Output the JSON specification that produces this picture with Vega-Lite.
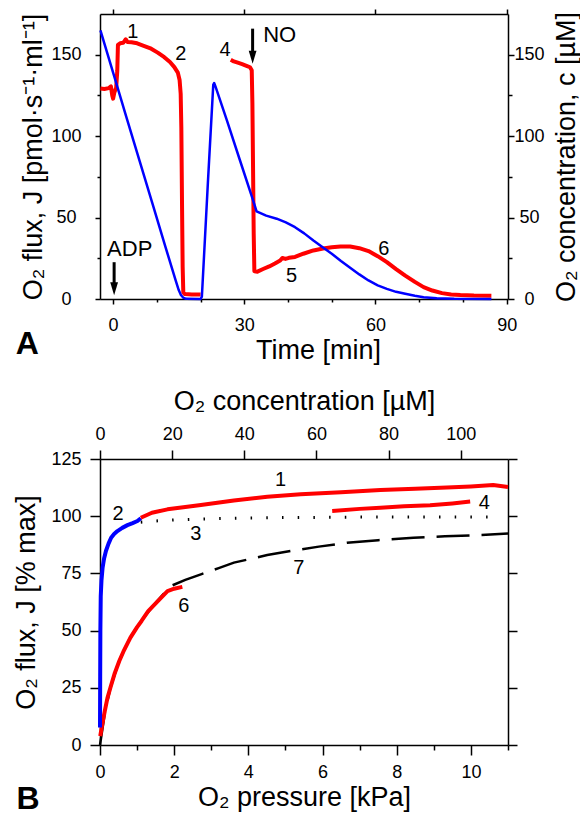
{
  "$schema": "https://vega.github.io/schema/vega-lite/v6.json",
  "padding": {"left": 12, "top": 8, "right": 0, "bottom": 0},
  "autosize": {"type": "pad"},
  "spacing": 160,
  "bounds": "flush",
  "config": {
    "view": {"stroke": null},
    "axis": {"grid": false, "domainColor": "black", "domainWidth": 1.5, "tickColor": "black", "tickWidth": 1.5,
      "labelFont": "Liberation Sans", "labelFontSize": 18, "labelColor": "black",
      "titleFont": "Liberation Sans", "titleFontSize": 27, "titleFontWeight": "normal", "titleColor": "black", "labelOverlap": false},
    "text": {"font": "Liberation Sans", "color": "black"}
  },
  "vconcat": [
    {
      "width": 408, "height": 285,
      "layer": [
        {
          "encoding": {
            "x": {"field": "t", "type": "quantitative", "scale": {"domain": [-3, 90.3], "nice": false},
              "axis": {"orient": "bottom", "values": [0,10,20,30,40,50,60,70,80,90],
                "labelExpr": "datum.value % 30 === 0 ? datum.label : ''",
                "tickSize": {"condition": {"test": "datum.value % 30 === 0", "value": 5}, "value": 3},
                "labelPadding": 12, "labelFlush": false, "title": "Time [min]", "titlePadding": 3, "titleX": 218}},
            "y": {"field": "J", "type": "quantitative", "scale": {"domain": [0, 175], "nice": false},
              "axis": {"orient": "left", "values": [0,25,50,75,100,125,150],
                "labelExpr": "datum.value % 50 === 0 ? datum.label : ''",
                "tickSize": {"condition": {"test": "datum.value % 50 === 0", "value": 5}, "value": 3},
                "labelAlign": "center", "labelPadding": 29,
                "title": "O₂ flux, J [pmol·s⁻¹·ml⁻¹]", "titlePadding": 3}}
          },
          "layer": [
            {
              "data": {"values": [
                {"seg":"a","t":-2.9,"J":129.2},{"seg":"a","t":-2.0,"J":129.0},{"seg":"a","t":-1.0,"J":129.5},{"seg":"a","t":-0.5,"J":130.5},
                {"seg":"a","t":-0.2,"J":125},{"seg":"a","t":0.0,"J":123},{"seg":"a","t":0.3,"J":127},{"seg":"a","t":0.7,"J":129.8},
                {"seg":"a","t":0.95,"J":140},{"seg":"a","t":1.1,"J":156},{"seg":"a","t":1.6,"J":157},{"seg":"a","t":2.3,"J":157.3},
                {"seg":"a","t":2.9,"J":159.5},{"seg":"a","t":3.3,"J":157.8},{"seg":"a","t":4.2,"J":157.6},{"seg":"a","t":5.5,"J":157},
                {"seg":"a","t":7.0,"J":155.5},{"seg":"a","t":8.7,"J":153.7},{"seg":"a","t":10.2,"J":151.3},{"seg":"a","t":11.7,"J":148.5},
                {"seg":"a","t":13.0,"J":145.5},{"seg":"a","t":14.0,"J":142.4},{"seg":"a","t":14.8,"J":139},{"seg":"a","t":15.2,"J":134.5},
                {"seg":"a","t":15.45,"J":126},{"seg":"a","t":15.6,"J":105},{"seg":"a","t":15.75,"J":60},{"seg":"a","t":15.9,"J":20},
                {"seg":"a","t":16.05,"J":4},{"seg":"a","t":16.4,"J":3.0},{"seg":"a","t":18.0,"J":2.8},{"seg":"a","t":20.0,"J":2.7},
                {"seg":"b","t":26.9,"J":146.9},{"seg":"b","t":27.6,"J":145.9},{"seg":"b","t":28.5,"J":145.1},{"seg":"b","t":29.5,"J":144.2},
                {"seg":"b","t":30.5,"J":143.2},{"seg":"b","t":31.3,"J":142.3},{"seg":"b","t":31.7,"J":140.5},{"seg":"b","t":31.85,"J":120},
                {"seg":"b","t":32.0,"J":80},{"seg":"b","t":32.15,"J":40},{"seg":"b","t":32.3,"J":17},{"seg":"b","t":33.0,"J":16.8},
                {"seg":"b","t":34.3,"J":18.4},{"seg":"b","t":35.7,"J":20},{"seg":"b","t":37.0,"J":21.8},{"seg":"b","t":38.2,"J":23.6},
                {"seg":"b","t":38.7,"J":25.2},{"seg":"b","t":39.4,"J":24.6},{"seg":"b","t":40.2,"J":25.3},{"seg":"b","t":41.6,"J":25.8},
                {"seg":"b","t":43.5,"J":27.8},{"seg":"b","t":45.8,"J":29.8},{"seg":"b","t":48.0,"J":31.0},{"seg":"b","t":50.0,"J":31.8},
                {"seg":"b","t":52.0,"J":32.3},{"seg":"b","t":54.2,"J":32.2},{"seg":"b","t":56.3,"J":31.2},{"seg":"b","t":58.4,"J":29.4},
                {"seg":"b","t":60.5,"J":26.3},{"seg":"b","t":62.6,"J":22.6},{"seg":"b","t":64.7,"J":18.4},{"seg":"b","t":66.8,"J":14.4},
                {"seg":"b","t":69.0,"J":10.5},{"seg":"b","t":71.0,"J":7.3},{"seg":"b","t":73.0,"J":5.2},{"seg":"b","t":75.2,"J":3.6},
                {"seg":"b","t":77.3,"J":2.8},{"seg":"b","t":79.4,"J":2.4},{"seg":"b","t":82.5,"J":2.1},{"seg":"b","t":86.5,"J":2.0}
              ]},
              "mark": {"type": "line", "color": "#ff0000", "strokeWidth": 4, "strokeJoin": "round"},
              "encoding": {"detail": {"field": "seg"}}
            },
            {
              "data": {"values": [{"t":0.23,"J":22.6,"J2":8},{"t":31.9,"J":166,"J2":151}]},
              "mark": {"type": "rule", "color": "black", "strokeWidth": 3},
              "encoding": {"y2": {"field": "J2"}}
            },
            {
              "data": {"values": [{"t":0.23,"J":6.3},{"t":31.9,"J":148.5}]},
              "mark": {"type": "point", "shape": "M-0.6,-1L0.6,-1L0,1Z", "size": 169, "filled": true, "color": "black", "opacity": 1}
            },
            {
              "data": {"values": [{"t":4.5,"J":164,"txt":"1"},{"t":15.5,"J":150.6,"txt":"2"},{"t":25.6,"J":153,"txt":"4"},{"t":40.8,"J":14.4,"txt":"5"},{"t":61.9,"J":30.8,"txt":"6"}]},
              "mark": {"type": "text", "fontSize": 20, "align": "center", "baseline": "middle"},
              "encoding": {"text": {"field": "txt"}}
            },
            {
              "data": {"values": [{"t":38.1,"J":162,"txt":"NO"},{"t":3.8,"J":30.8,"txt":"ADP"}]},
              "mark": {"type": "text", "fontSize": 22, "align": "center", "baseline": "middle"},
              "encoding": {"text": {"field": "txt"}}
            },
            {
              "data": {"values": [{"t":-19.6,"J":-27.9,"txt":"A"}]},
              "mark": {"type": "text", "fontSize": 32, "fontWeight": "bold", "align": "center", "baseline": "middle"},
              "encoding": {"text": {"field": "txt"}}
            }
          ]
        },
        {
          "data": {"values": [
            {"t":-2.9,"c":164.9},{"t":0,"c":139},{"t":3,"c":112},{"t":6,"c":85.3},{"t":9,"c":58.5},{"t":12,"c":31.7},
            {"t":14.3,"c":11.5},{"t":15.0,"c":5.5},{"t":15.5,"c":2.5},{"t":16.0,"c":0.9},{"t":16.7,"c":0.1},{"t":20.0,"c":0},
            {"t":20.3,"c":1.5},{"t":21.7,"c":72.8},{"t":22.9,"c":131.5},{"t":23.1,"c":132.6},{"t":23.4,"c":130.5},{"t":26,"c":109.8},
            {"t":29,"c":85.2},{"t":31.9,"c":61.5},{"t":32.8,"c":53.8},{"t":35,"c":51.2},{"t":37.4,"c":49.3},{"t":39.5,"c":47},
            {"t":41.6,"c":44.1},{"t":43.7,"c":40.3},{"t":45.8,"c":35.9},{"t":48,"c":31.6},{"t":50,"c":27.8},{"t":52.1,"c":23.4},
            {"t":54.2,"c":19.2},{"t":56.3,"c":15.1},{"t":58.4,"c":11.4},{"t":60.5,"c":8.4},{"t":62.6,"c":6.2},{"t":64.7,"c":4.4},
            {"t":66.8,"c":3.2},{"t":69,"c":2},{"t":71,"c":1.1},{"t":74,"c":0.4},{"t":78,"c":0.1},{"t":86.5,"c":0}
          ]},
          "mark": {"type": "line", "color": "#0000ff", "strokeWidth": 2.5, "strokeJoin": "round"},
          "encoding": {
            "x": {"field": "t", "type": "quantitative", "scale": {"domain": [-3, 90.3], "nice": false},
              "axis": {"orient": "top", "values": [0,30,60,90], "labels": false, "tickSize": 5, "title": null}},
            "y": {"field": "c", "type": "quantitative", "scale": {"domain": [0, 175], "nice": false},
              "axis": {"orient": "right", "values": [0,25,50,75,100,125,150],
                "labelExpr": "datum.value % 50 === 0 ? datum.label : ''",
                "tickSize": {"condition": {"test": "datum.value % 50 === 0", "value": 6}, "value": 4},
                "labelAlign": "center", "labelPadding": 15,
                "title": "O₂ concentration, c [µM]", "titleAngle": 270, "titleBaseline": "top", "titlePadding": 9}}
          }
        }
      ],
      "resolve": {"scale": {"y": "independent"}, "axis": {"x": "independent"}}
    },
    {
      "width": 408, "height": 286,
      "layer": [
        {
          "encoding": {
            "x": {"field": "p", "type": "quantitative", "scale": {"domain": [0, 11], "nice": false},
              "axis": {"orient": "bottom", "values": [0,1,2,3,4,5,6,7,8,9,10,11],
                "labelExpr": "datum.value % 2 === 0 && datum.value <= 10 ? datum.label : ''",
                "tickSize": {"condition": {"test": "datum.value % 2 === 0", "value": 10}, "value": 5},
                "labelPadding": 8, "labelFlush": false, "title": "O₂ pressure [kPa]", "titlePadding": 3}},
            "y": {"field": "J", "type": "quantitative", "scale": {"domain": [0, 125], "nice": false},
              "axis": {"orient": "left", "values": [0,25,50,75,100,125], "tickSize": 10, "labelPadding": 9,
                "title": "O₂ flux, J [% max]", "titlePadding": 10}}
          },
          "layer": [
            {
              "data": {"values": [
                {"p":0,"J":0},{"p":0.13,"J":14},{"p":0.28,"J":25},{"p":0.52,"J":37},{"p":0.82,"J":47},{"p":1.12,"J":54.5},
                {"p":1.52,"J":62.5},{"p":1.91,"J":69.5},{"p":2.3,"J":72.2},{"p":2.72,"J":74.6},{"p":3.2,"J":77.3},{"p":3.61,"J":79.7},
                {"p":4.1,"J":81.5},{"p":4.51,"J":83},{"p":5.14,"J":84.8},{"p":5.9,"J":86.7},{"p":6.66,"J":88.4},{"p":7.5,"J":89.5},
                {"p":8.45,"J":90.6},{"p":9.3,"J":91.2},{"p":10.25,"J":91.8},{"p":11.0,"J":92.4}
              ]},
              "mark": {"type": "line", "color": "black", "strokeWidth": 2.5, "strokeDash": [33, 12]}
            },
            {
              "data": {"values": [
                {"p":1.1,"J":97.4},{"p":1.5,"J":97.9},{"p":2,"J":98.4},{"p":3,"J":98.9},{"p":4,"J":99.2},{"p":5,"J":99.4},
                {"p":6,"J":99.5},{"p":7,"J":99.6},{"p":8,"J":99.6},{"p":9,"J":99.7},{"p":10.6,"J":99.7}
              ]},
              "mark": {"type": "line", "color": "black", "strokeWidth": 3, "strokeDash": [1.5, 14.2]}
            },
            {
              "data": {"values": [
                {"p":0.007,"J":3.9},{"p":0.05,"J":8},{"p":0.13,"J":14.9},{"p":0.2,"J":20.5},{"p":0.28,"J":25},{"p":0.4,"J":31.5},
                {"p":0.52,"J":36.7},{"p":0.65,"J":41.5},{"p":0.82,"J":46.9},{"p":1.0,"J":51.5},{"p":1.12,"J":54.2},{"p":1.3,"J":58.5},
                {"p":1.52,"J":62.2},{"p":1.82,"J":67.3},{"p":2.0,"J":68.3},{"p":2.22,"J":69.1}
              ]},
              "mark": {"type": "line", "color": "#ff0000", "strokeWidth": 4, "strokeJoin": "round"}
            },
            {
              "data": {"values": [
                {"p":0.0,"J":7.6},{"p":0.005,"J":30},{"p":0.01,"J":50},{"p":0.02,"J":65},{"p":0.04,"J":72},{"p":0.07,"J":77.5},
                {"p":0.11,"J":81.5},{"p":0.16,"J":84.8},{"p":0.23,"J":88},{"p":0.30,"J":90.6},{"p":0.38,"J":92.2},{"p":0.47,"J":93.5},
                {"p":0.6,"J":94.9},{"p":0.74,"J":96.1},{"p":0.88,"J":97},{"p":1.01,"J":97.9},{"p":1.10,"J":99.1}
              ]},
              "mark": {"type": "line", "color": "#0000ff", "strokeWidth": 4, "strokeJoin": "round"}
            },
            {
              "data": {"values": [
                {"p":1.10,"J":99.3},{"p":1.4,"J":101.5},{"p":1.82,"J":103},{"p":2.3,"J":104},{"p":2.72,"J":104.9},{"p":3.61,"J":106.9},
                {"p":4.51,"J":108.5},{"p":5.41,"J":109.6},{"p":6.5,"J":110.5},{"p":7.56,"J":111.5},{"p":8.5,"J":112},{"p":9.35,"J":112.5},
                {"p":10.0,"J":113},{"p":10.6,"J":113.6},{"p":11.0,"J":112.8}
              ]},
              "mark": {"type": "line", "color": "#ff0000", "strokeWidth": 4, "strokeJoin": "round"}
            },
            {
              "data": {"values": [
                {"p":6.26,"J":102.3},{"p":7.0,"J":103.2},{"p":7.56,"J":103.7},{"p":8.2,"J":104.3},{"p":8.9,"J":104.8},{"p":9.5,"J":105.6},{"p":9.98,"J":106.4}
              ]},
              "mark": {"type": "line", "color": "#ff0000", "strokeWidth": 4, "strokeJoin": "round"}
            },
            {
              "data": {"values": [{"p":4.87,"J":115.7,"txt":"1"},{"p":0.49,"J":100.8,"txt":"2"},{"p":2.58,"J":92.1,"txt":"3"},{"p":10.36,"J":105.9,"txt":"4"},{"p":2.26,"J":60.8,"txt":"6"},{"p":5.36,"J":77.5,"txt":"7"}]},
              "mark": {"type": "text", "fontSize": 20, "align": "center", "baseline": "middle"},
              "encoding": {"text": {"field": "txt"}}
            },
            {
              "data": {"values": [{"p":-1.94,"J":-23.8,"txt":"B"}]},
              "mark": {"type": "text", "fontSize": 32, "fontWeight": "bold", "align": "center", "baseline": "middle"},
              "encoding": {"text": {"field": "txt"}}
            }
          ]
        },
        {
          "data": {"values": [{"cB":0,"JB":0},{"cB":113.1,"JB":125}]},
          "mark": {"type": "point", "opacity": 0},
          "encoding": {
            "x": {"field": "cB", "type": "quantitative", "scale": {"domain": [0, 113.1], "nice": false},
              "axis": {"orient": "top", "values": [0,20,40,60,80,100], "tickSize": 9, "labelPadding": 7, "labelFlush": false,
                "title": "O₂ concentration [µM]", "titlePadding": 10}},
            "y": {"field": "JB", "type": "quantitative", "scale": {"domain": [0, 125], "nice": false},
              "axis": {"orient": "right", "values": [0,25,50,75,100,125], "labels": false, "tickSize": 9, "title": null}}
          }
        }
      ],
      "resolve": {"scale": {"x": "independent"}, "axis": {"y": "independent"}}
    }
  ]
}
